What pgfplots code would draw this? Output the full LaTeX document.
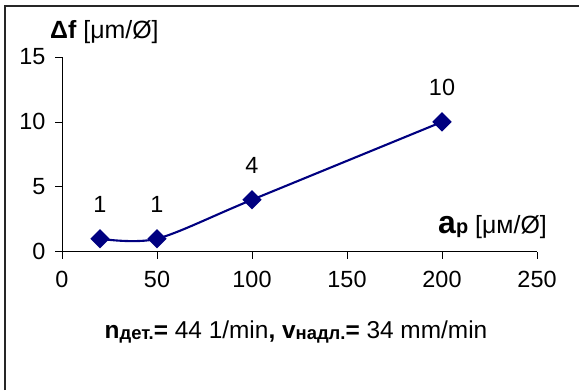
\documentclass[border=0pt]{standalone}
\usepackage{fontspec}
\setmainfont{Liberation Sans}
\usepackage{pgfplots}
\pgfplotsset{compat=1.18}
\definecolor{navy}{RGB}{0,0,128}
\newcommand{\fs}[1]{\fontsize{#1}{#1}\selectfont}
\begin{document}
\begin{tikzpicture}[x=1bp,y=1bp]
\useasboundingbox (0,0) rectangle (579,390);
\draw[line width=1.2bp, black!85] (5,0) -- (5,384) -- (579,384);
\begin{axis}[
  at={(62bp,138.3bp)}, anchor=south west,
  scale only axis, width=475bp, height=194.7bp,
  xmin=0,xmax=250,ymin=0,ymax=15,
  axis x line=bottom, axis y line=left,
  axis line style={-, line width=0.8bp},
  xtick={0,50,...,250}, ytick={0,5,10,15},
  tick align=outside, major tick length=7bp,
  tick style={line width=0.8bp, black},
  ticklabel style={font=\fs{23.5}},
  xticklabel style={yshift=-9bp},
  yticklabel style={xshift=-6bp},
  /pgf/number format/assume math mode=true,
  clip=false,
  nodes near coords,
  every node near coord/.append style={anchor=center, yshift=34bp, black, font=\fs{23.5}},
]
\addplot[navy, line width=2.1bp, smooth, mark=square*, mark size=5.8bp, mark options={rotate=45}]
  coordinates {(20,1)(50,1)(100,4)(200,10)};
\end{axis}
\node[anchor=base west, inner sep=0] at (50,352) {\fs{25}\textbf{Δf} [μm/Ø]};
\node[anchor=base east, inner sep=0] at (547,157) {\fs{32}\textbf{a}\fs{20}\textbf{p}\fs{25} [μм/Ø]};
\node[anchor=base, inner sep=0] at (296,52) {\fs{24.5}\textbf{n}\raisebox{-1bp}{\fs{18.5}\textbf{дет.}}\textbf{=} 44 1/min\textbf{, v}\raisebox{-1bp}{\fs{18.5}\textbf{надл.}}\textbf{=} 34 mm/min};
\end{tikzpicture}
\end{document}
